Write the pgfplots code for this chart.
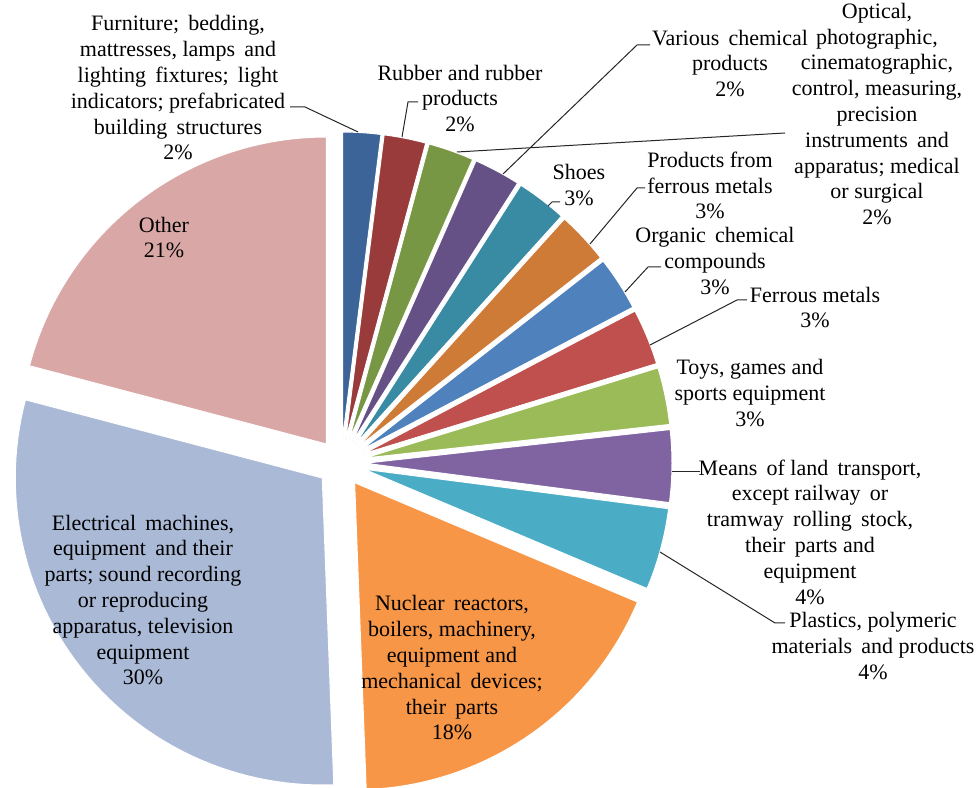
\documentclass[border=0pt]{standalone}
\usepackage{pgfplots}
\pgfplotsset{compat=1.18}
\usepackage{fontspec}
\setmainfont{Liberation Serif}
\definecolor{cFurn}{RGB}{60,100,152}
\definecolor{cRub}{RGB}{153,59,58}
\definecolor{cOpt}{RGB}{120,151,68}
\definecolor{cVar}{RGB}{101,81,134}
\definecolor{cShoe}{RGB}{56,139,162}
\definecolor{cProd}{RGB}{206,123,56}
\definecolor{cOrg}{RGB}{79,129,189}
\definecolor{cFer}{RGB}{192,80,77}
\definecolor{cToy}{RGB}{155,187,89}
\definecolor{cMean}{RGB}{128,100,162}
\definecolor{cPla}{RGB}{75,172,198}
\definecolor{cNuc}{RGB}{247,150,70}
\definecolor{cEle}{RGB}{170,186,214}
\definecolor{cOth}{RGB}{217,167,166}
\newcommand\lbl{\fontsize{11pt}{12.9pt}\selectfont}
\newcommand\ws{\hspace{0.42em}}
\tikzset{lab/.style={align=center, font=\lbl, inner sep=0pt, text=black}}
\def\cx{341}\def\cy{324}\def\R{307}\def\ex{24}
\gdef\cum{0}
\newcommand\slice[2]{%
  \pgfmathsetmacro\sa{90-3.6*\cum}%
  \pgfmathsetmacro\cumnew{\cum+#1}%
  \pgfmathsetmacro\sb{90-3.6*\cumnew}%
  \pgfmathsetmacro\md{(\sa+\sb)/2}%
  \pgfmathsetmacro\ox{\cx+\ex*cos(\md)}%
  \pgfmathsetmacro\oy{\cy+\ex*sin(\md)}%
  \edef\temp{\noexpand\addplot[fill=#2, draw=white, line width=0.5pt, domain=\sb:\sa, samples=60, variable=\noexpand\t, forget plot] ({\ox+\R*cos(\noexpand\t)},{\oy+\R*sin(\noexpand\t)}) -- (axis cs:\ox,\oy) -- cycle;}%
  \temp
  \xdef\cum{\cumnew}%
}
\begin{document}
\begin{tikzpicture}
\begin{axis}[
  scale only axis, width=489.5pt, height=393.5pt,
  xmin=0, xmax=979, ymin=0, ymax=787,
  hide axis, clip=false,
]
% shares in per cent, clockwise from 12 o'clock
\slice{2.0}{cFurn}   % Furniture
\slice{2.2}{cRub}    % Rubber
\slice{2.4}{cOpt}    % Optical
\slice{2.45}{cVar}   % Various chemical
\slice{2.65}{cShoe}  % Shoes
\slice{2.75}{cProd}  % Products from ferrous metals
\slice{2.85}{cOrg}   % Organic chemical compounds
\slice{2.95}{cFer}   % Ferrous metals
\slice{3.0}{cToy}    % Toys
\slice{3.8}{cMean}   % Means of land transport
\slice{4.3}{cPla}    % Plastics
\slice{18.05}{cNuc}  % Nuclear reactors
\slice{29.7}{cEle}   % Electrical machines
\slice{20.9}{cOth}   % Other

% leader lines
\addplot[black!85, line width=0.5pt, forget plot] coordinates {(290,680) (305,680) (358,655)};
\addplot[black!85, line width=0.5pt, forget plot] coordinates {(418,685) (408,685) (402,650)};
\addplot[black!85, line width=0.5pt, forget plot] coordinates {(785,654) (457,635)};
\addplot[black!85, line width=0.5pt, forget plot] coordinates {(650,742) (637,742) (503,613)};
\addplot[black!85, line width=0.5pt, forget plot] coordinates {(560,585) (552,585) (548,581)};
\addplot[black!85, line width=0.5pt, forget plot] coordinates {(645,599) (637,599) (590,543)};
\addplot[black!85, line width=0.5pt, forget plot] coordinates {(661,520) (648,520) (625,495)};
\addplot[black!85, line width=0.5pt, forget plot] coordinates {(747,487) (737,487) (650,442)};
\addplot[black!85, line width=0.5pt, forget plot] coordinates {(672,315) (700,315)};
\addplot[black!85, line width=0.5pt, forget plot] coordinates {(660,235) (775,164) (785,164)};

% labels
\node[lab] at (axis cs:178,699) {Furniture;\ws bedding,\\mattresses, lamps\ws and\\lighting\ws fixtures;\ws light\\indicators; prefabricated\\building\ws structures\\2\%};
\node[lab] at (axis cs:460,688.5) {Rubber and rubber\\products\\2\%};
\node[lab] at (axis cs:730,723.5) {Various\ws chemical\\products\\2\%};
\node[lab] at (axis cs:877,673) {Optical,\\photographic,\\cinematographic,\\control, measuring,\\precision\\instruments\ws and\\apparatus; medical\\or surgical\\2\%};
\node[lab] at (axis cs:579,602) {Shoes\\3\%};
\node[lab] at (axis cs:710,601.5) {Products from\\ferrous metals\\3\%};
\node[lab] at (axis cs:715,526) {Organic\ws chemical\\compounds\\3\%};
\node[lab] at (axis cs:815,479.5) {Ferrous metals\\3\%};
\node[lab] at (axis cs:750,394) {Toys, games and\\sports equipment\\3\%};
\node[lab] at (axis cs:810,255) {Means\ws of land\ws transport,\\except railway\ws or\\tramway\ws rolling\ws stock,\\their\ws parts and\\equipment\\4\%};
\node[lab] at (axis cs:873,141) {Plastics, polymeric\\materials\ws and products\\4\%};
\node[lab] at (axis cs:452,119) {Nuclear\ws reactors,\\boilers, machinery,\\equipment and\\mechanical\ws devices;\\their\ws parts\\18\%};
\node[lab] at (axis cs:143,187) {Electrical\ws machines,\\equipment\ws and their\\parts; sound recording\\or reproducing\\apparatus, television\\equipment\\30\%};
\node[lab] at (axis cs:164,549.5) {Other\\21\%};
\end{axis}
\pgfresetboundingbox
\path (0,0) rectangle (489.5pt,393.5pt);
\end{tikzpicture}
\end{document}
